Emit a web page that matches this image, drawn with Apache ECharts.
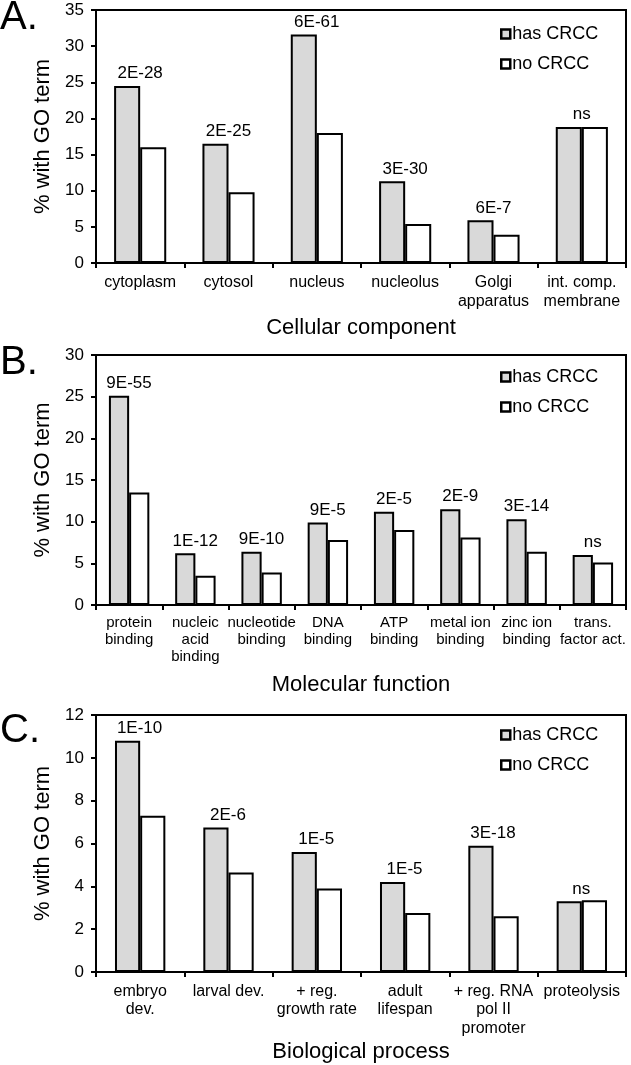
<!DOCTYPE html>
<html>
<head>
<meta charset="utf-8">
<script src="https://cdn.jsdelivr.net/npm/echarts@6/dist/echarts.min.js"></script>
<style>
html,body{margin:0;padding:0;background:#fff;}
#c{width:631px;height:1065px;}
</style>
</head>
<body>
<div id="c"></div>
<script>
const seriesNames = ['has CRCC', 'no CRCC'];

const catA = ['cytoplasm', 'cytosol', 'nucleus', 'nucleolus', 'Golgi\napparatus', 'int. comp.\nmembrane'];
const hasA = [24.5, 16.5, 31.6, 11.3, 5.9, 18.8];
const noA = [16.0, 9.8, 18.0, 5.4, 3.9, 18.8];
const pA = ['2E-28', '2E-25', '6E-61', '3E-30', '6E-7', 'ns'];
const ticksA = {min: 0, max: 35, interval: 5};

const catB = ['protein\nbinding', 'nucleic\nacid\nbinding', 'nucleotide\nbinding', 'DNA\nbinding', 'ATP\nbinding', 'metal ion\nbinding', 'zinc ion\nbinding', 'trans.\nfactor act.'];
const hasB = [25.1, 6.2, 6.4, 9.9, 11.2, 11.5, 10.3, 6.0];
const noB = [13.5, 3.5, 3.9, 7.8, 9.0, 8.1, 6.4, 5.1];
const pB = ['9E-55', '1E-12', '9E-10', '9E-5', '2E-5', '2E-9', '3E-14', 'ns'];
const ticksB = {min: 0, max: 30, interval: 5};

const catC = ['embryo\ndev.', 'larval dev.', '+ reg.\ngrowth rate', 'adult\nlifespan', '+ reg. RNA\npol II\npromoter', 'proteolysis'];
const hasC = [10.8, 6.75, 5.6, 4.2, 5.9, 3.3];
const noC = [7.3, 4.65, 3.9, 2.75, 2.6, 3.35];
const pC = ['1E-10', '2E-6', '1E-5', '1E-5', '3E-18', 'ns'];
const ticksC = {min: 0, max: 12, interval: 2};

const panelLetters = ['A.', 'B.', 'C.'];
const xTitles = ['Cellular component', 'Molecular function', 'Biological process'];
const yTitle = '% with GO term';

const FONT = '"Liberation Sans", Arial, sans-serif';

const panels = [
  {cat: catA, has: hasA, no: noA, p: pA, ticks: ticksA, top: 10, height: 253, catFont: 16, catLH: 19, catMargin: 10, nameGap: 54, gap: '41%', off: 13, legendTop: 20, letterY: 20},
  {cat: catB, has: hasB, no: noB, p: pB, ticks: ticksB, top: 355, height: 250, catFont: 15, catLH: 17, catMargin: 9, nameGap: 69, gap: '39%', off: 10, legendTop: 363, letterY: 365},
  {cat: catC, has: hasC, no: noC, p: pC, ticks: ticksC, top: 715, height: 257, catFont: 16, catLH: 18.5, catMargin: 10, nameGap: 69, gap: '43%', off: 12, legendTop: 721, letterY: 733}
];

const grids = [], xAxes = [], yAxes = [], series = [], legends = [], graphics = [];

panels.forEach((pn, i) => {
  grids.push({left: 96, right: 5, top: pn.top, height: pn.height, show: true, borderColor: '#000', borderWidth: 2, backgroundColor: 'transparent'});
  xAxes.push({
    type: 'category', gridIndex: i, data: pn.cat,
    axisLine: {lineStyle: {color: '#000', width: 2}},
    axisTick: {show: true, length: 5, lineStyle: {color: '#000', width: 2}},
    axisLabel: {interval: 0, color: '#000', fontSize: pn.catFont, lineHeight: pn.catLH, margin: pn.catMargin, fontFamily: FONT},
    name: xTitles[i], nameLocation: 'middle', nameGap: pn.nameGap,
    nameTextStyle: {fontSize: 22, color: '#000', fontFamily: FONT}
  });
  yAxes.push({
    type: 'value', gridIndex: i, min: pn.ticks.min, max: pn.ticks.max, interval: pn.ticks.interval,
    axisLine: {show: true, lineStyle: {color: '#000', width: 2}},
    axisTick: {show: true, length: 5, lineStyle: {color: '#000', width: 2}},
    splitLine: {show: false},
    axisLabel: {color: '#000', fontSize: 17, margin: 12, fontFamily: FONT},
    name: yTitle, nameLocation: 'middle', nameGap: 42,
    nameTextStyle: {fontSize: 22, color: '#000', fontFamily: FONT}
  });
  series.push({
    name: seriesNames[0], type: 'bar', xAxisIndex: i, yAxisIndex: i, data: pn.has,
    barGap: '0%', barCategoryGap: pn.gap,
    itemStyle: {color: '#d9d9d9', borderColor: '#000', borderWidth: 2},
    label: {show: true, position: 'top', distance: 4, offset: [pn.off, 0], color: '#000', fontSize: 17, fontFamily: FONT,
      formatter: (prm) => pn.p[prm.dataIndex]}
  });
  series.push({
    name: seriesNames[1], type: 'bar', xAxisIndex: i, yAxisIndex: i, data: pn.no,
    barGap: '0%', barCategoryGap: pn.gap,
    itemStyle: {color: '#ffffff', borderColor: '#000', borderWidth: 2}
  });
  legends.push({
    data: seriesNames, orient: 'vertical', left: 495, top: pn.legendTop, icon: 'rect',
    itemWidth: 9, itemHeight: 9, itemGap: 12, selectedMode: false,
    textStyle: {fontSize: 18, color: '#000', fontFamily: FONT, padding: [0, 0, 0, -3]},
    itemStyle: {borderColor: '#000', borderWidth: 2.5}
  });
  graphics.push({
    type: 'text', left: 0, top: pn.letterY - 22,
    style: {text: panelLetters[i], fontSize: 40, fill: '#000', fontFamily: FONT}
  });
});

const chart = echarts.init(document.getElementById('c'), null, {renderer: 'canvas'});
chart.setOption({
  animation: false,
  backgroundColor: '#fff',
  grid: grids, xAxis: xAxes, yAxis: yAxes, series: series, legend: legends, graphic: graphics
});
</script>
</body>
</html>
